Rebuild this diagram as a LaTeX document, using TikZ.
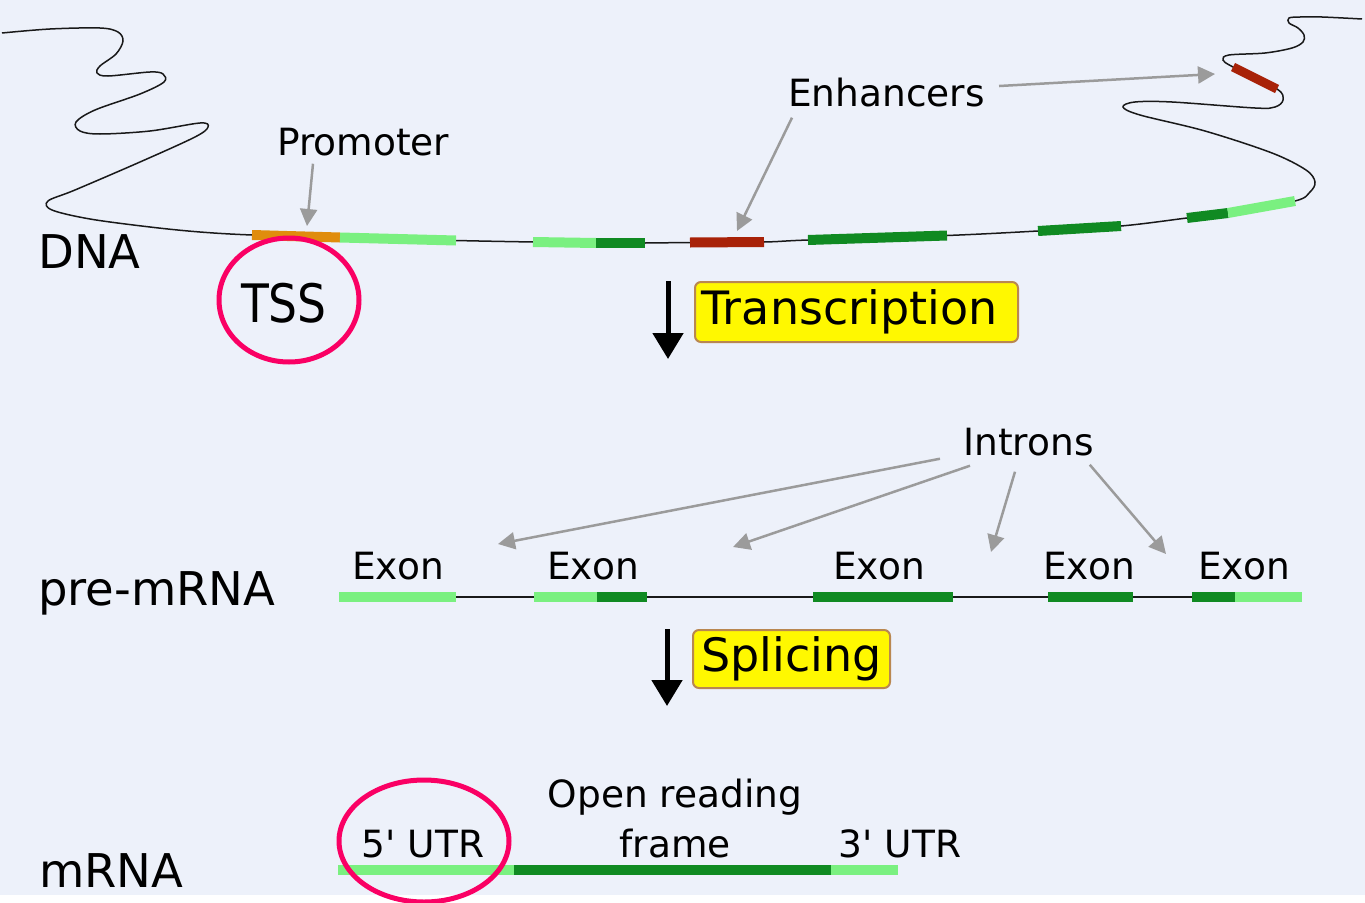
\documentclass[tikz,border=0pt]{standalone}
\usepackage{fontspec}
\setmainfont{DejaVu Sans}
\usepackage{graphicx}
\usetikzlibrary{arrows.meta}

\definecolor{bg}{RGB}{237,241,250}
\definecolor{lightgene}{RGB}{122,240,128}
\definecolor{darkgene}{RGB}{16,138,34}
\definecolor{enhred}{RGB}{168,34,8}
\definecolor{promorange}{RGB}{224,140,12}
\definecolor{ringpink}{RGB}{250,0,100}
\definecolor{ptrgray}{RGB}{155,155,155}
\definecolor{boxyellow}{RGB}{255,248,0}
\definecolor{boxedge}{RGB}{185,135,80}

\tikzset{
  big/.style={font=\fontsize{46.5}{50}\selectfont, inner sep=0pt},
  lbl/.style={font=\fontsize{37.5}{50}\selectfont, inner sep=0pt},
  strand/.style={draw=black!90, line width=1.5pt},
  seg/.style={line width=10pt, line cap=butt},
  lg/.style={seg, draw=lightgene},
  dg/.style={seg, draw=darkgene},
  ptr/.style={draw=ptrgray, line width=2.5pt, -{Triangle[length=17pt,width=17pt]}},
  bigarrow/.style={draw=black, line width=5pt, -{Triangle[length=26pt,width=30pt]}},
  stepbox/.style={draw=boxedge, line width=2pt, fill=boxyellow, rounded corners=6pt,
                  font=\fontsize{46}{50}\selectfont, inner sep=0pt},
  ring/.style={draw=ringpink, line width=5pt},
}

\begin{document}
\begin{tikzpicture}[x=1pt,y=-1pt]
\useasboundingbox (0,0) rectangle (1365,902);
\fill[white] (0,0) rectangle (1365,902);
\fill[bg] (0,0) rectangle (1365,895);

% points on the DNA strand where coloured elements start and end
\coordinate (b0) at (252,235);
\coordinate (b1) at (340,237.5);
\coordinate (b2) at (456,240.5);
\coordinate (b3) at (533,242);
\coordinate (b4) at (596,243);
\coordinate (b5) at (645,243);
\coordinate (b6) at (690,242.5);
\coordinate (b7) at (764,242);
\coordinate (b8) at (808,240);
\coordinate (b9) at (947,235.5);
\coordinate (b10) at (1038,231);
\coordinate (b11) at (1121,226);
\coordinate (b12) at (1187,218);
\coordinate (b13) at (1228,213);
\coordinate (b14) at (1295,201);
\coordinate (e1) at (1277,89);
\coordinate (e2) at (1233,67);

% the DNA strand
\draw[strand] plot[smooth, tension=0.55] coordinates {
  (2,33) (50,29) (100,28) (118,32) (123,41) (116,54) (100,66) (97,73) (108,76)
  (150,72) (163,74) (164,82) (140,94) (95,110) (76,122) (80,131) (100,134)
  (150,131) (200,123) (208,127) (195,137) (140,162) (75,190) (48,201) (52,210)
  (90,219) (150,227) (200,232) (252,235)
  (340,237.5) (456,240.5) (533,242) (596,243) (645,243) (690,242.5) (764,242)
  (808,240) (947,235.5) (1038,231) (1121,226) (1187,218) (1228,213) (1295,201)
  (1310,192) (1315,182) (1306,170) (1272,153) (1205,131) (1140,115) (1123,107)
  (1135,102) (1172,102) (1255,108) (1275,107) (1283,100) (1277,89) (1233,67)
  (1223,60) (1229,55) (1265,53) (1292,48) (1303,42) (1304,35) (1298,28)
  (1289,23) (1289,18) (1300,17) (1322,17) (1362,19)};

% promoter, gene pieces and enhancers on the DNA
\draw[seg, draw=promorange] (b0) -- (b1);
\draw[lg] (b1) -- (b2);
\draw[lg] (b3) -- (b4);
\draw[dg] (b4) -- (b5);
\draw[seg, draw=enhred] (b6) -- (b7);
\draw[dg] (b8) -- (b9);
\draw[dg] (b10) -- (b11);
\draw[dg] (b12) -- (b13);
\draw[lg] (b13) -- (b14);
\draw[seg, line width=9pt, draw=enhred] (e1) -- (e2);

% pre-mRNA
\draw[strand] (456,597) -- (1192,597);
\draw[lg] (339,597) -- (456,597);
\draw[lg] (534,597) -- (597,597);
\draw[dg] (597,597) -- (647,597);
\draw[dg] (813,597) -- (953,597);
\draw[dg] (1048,597) -- (1133,597);
\draw[dg] (1192,597) -- (1235,597);
\draw[lg] (1235,597) -- (1302,597);

% mRNA
\draw[lg] (338,870) -- (514,870);
\draw[dg] (514,870) -- (831,870);
\draw[lg] (831,870) -- (898,870);

% row labels
\node[big, anchor=base west] (dna) at (38,268) {DNA};
\node[big, anchor=base west] (pre) at (38,605) {pre-mRNA};
\node[big, anchor=base west] (mrna) at (39,887) {mRNA};

% feature labels
\node[lbl, anchor=base west] (promoter) at (277,155) {Promoter};
\node[lbl, anchor=base west] (enh) at (788,106) {Enhancers};
\node[lbl, anchor=base west] (introns) at (963,455) {Introns};
\node[lbl, anchor=base] (ex1) at (398,579) {Exon};
\node[lbl, anchor=base] (ex2) at (593,579) {Exon};
\node[lbl, anchor=base] (ex3) at (879,579) {Exon};
\node[lbl, anchor=base] (ex4) at (1089,579) {Exon};
\node[lbl, anchor=base] (ex5) at (1244,579) {Exon};
\node[lbl, anchor=base] (utr5) at (423,857) {5\textquotesingle{} UTR};
\node[lbl, anchor=base, align=center] (orf) at (675,857) {Open reading\\frame};
\node[lbl, anchor=base] (utr3) at (900,857) {3\textquotesingle{} UTR};
\node[font=\fontsize{53}{56}\selectfont, inner sep=0pt, anchor=base] (tss) at (284,322) {\scalebox{0.86}[1]{TSS}};

% pointers
\coordinate (promTip) at (307,226);
\coordinate (enhTipA) at (737,231);
\coordinate (enhTipB) at (1215,74);
\coordinate (intTipA) at (498,544);
\coordinate (intTipB) at (733,547);
\coordinate (intTipC) at (991,552);
\coordinate (intTipD) at (1166,554);
\draw[ptr] ([shift={(36pt,-8pt)}]promoter.south west) -- (promTip);
\draw[ptr] ([shift={(4pt,-11pt)}]enh.south west) -- (enhTipA);
\draw[ptr] ([shift={(14pt,6pt)}]enh.east) -- (enhTipB);
\draw[ptr] ([shift={(-23pt,-3pt)}]introns.south west) -- (intTipA);
\draw[ptr] ([shift={(7pt,-10pt)}]introns.south west) -- (intTipB);
\draw[ptr] ([shift={(52pt,-16pt)}]introns.south west) -- (intTipC);
\draw[ptr] ([shift={(-4pt,-9pt)}]introns.south east) -- (intTipD);

% process steps
\node[stepbox, minimum width=323pt, minimum height=60pt] (trans) at (856.5,312) {\hspace*{-14pt}Transcription};
\node[stepbox, minimum width=197pt, minimum height=58pt] (splice) at (791.5,659) {Splicing};
\draw[bigarrow] ([xshift=-26pt]trans.north west) -- ([shift={(-26pt,-16pt)}]trans.south west);
\draw[bigarrow] ([xshift=-25pt]splice.north west) -- ([shift={(-25pt,-17pt)}]splice.south west);

% highlight rings
\draw[ring] (289,300) ellipse [x radius=70pt, y radius=62pt];
\draw[ring] (424,841) ellipse [x radius=85pt, y radius=61pt];
\end{tikzpicture}
\end{document}
